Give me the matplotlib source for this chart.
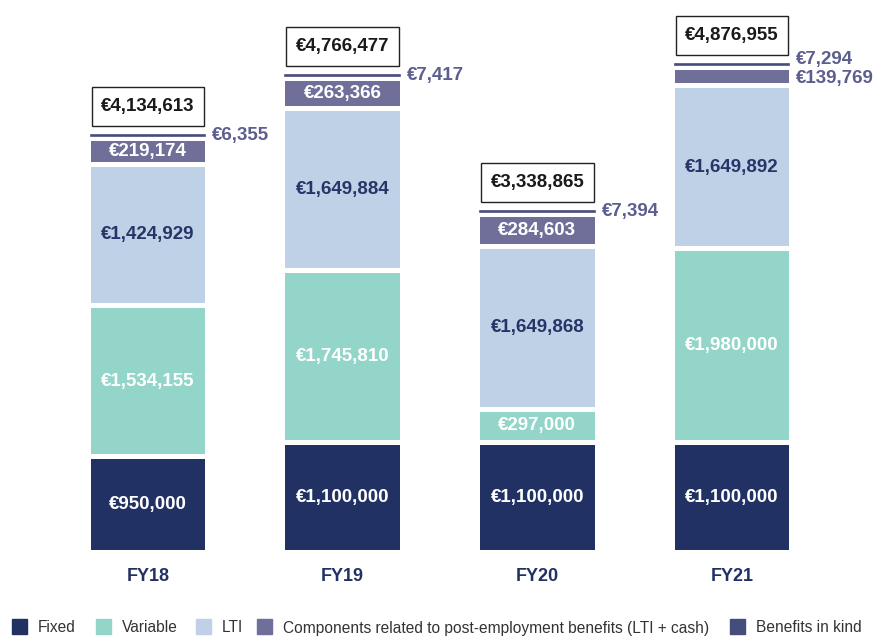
import matplotlib.pyplot as plt
import numpy as np

years = ['FY18', 'FY19', 'FY20', 'FY21']
fixed = [950000, 1100000, 1100000, 1100000]
variable = [1534155, 1745810, 297000, 1980000]
lti = [1424929, 1649884, 1649868, 1649892]
post_emp = [219174, 263366, 284603, 139769]
benefits = [6355, 7417, 7394, 7294]
totals = [4134613, 4766477, 3338865, 4876955]

c_fixed = '#223163'
c_var = '#93d5c9'
c_lti = '#bfd1e7'
c_post = '#6f6f9a'
c_bik = '#454d7c'
c_lab = '#5b5e8f'

plt.rcParams['font.family'] = ['Liberation Sans', 'DejaVu Sans']

W, H = 877, 637
fig = plt.figure(figsize=(W / 100, H / 100), dpi=100)
ax = fig.add_axes([0, 87 / H, 1, 550 / H])
px_per_unit = 0.0955 / 1000
ax.set_xlim(-0.76, 3.745)
ax.set_ylim(0, 550 / px_per_unit)
ax.axis('off')

x = np.arange(len(years))
width = 0.59
gap = 5 / px_per_unit
fs = 13.5


def fmt(v):
    return '€{:,}'.format(v)


bottom = np.zeros(len(years))
segs = [(fixed, c_fixed, 'white'), (variable, c_var, 'white'), (lti, c_lti, '#263567')]
for vals, col, tcol in segs:
    ax.bar(x, vals, width, bottom=bottom, color=col, linewidth=0)
    for i, v in enumerate(vals):
        ax.text(x[i], bottom[i] + v / 2, fmt(v), ha='center', va='center',
                color=tcol, fontsize=fs, fontweight='bold')
    bottom = bottom + np.array(vals) + gap

# post-employment
ax.bar(x, post_emp, width, bottom=bottom, color=c_post, linewidth=0)
for i, v in enumerate(post_emp):
    if v < 200000:
        ax.annotate(fmt(v), (x[i] + width / 2, bottom[i] + v / 2), xytext=(5, -1),
                    textcoords='offset points', ha='left', va='center',
                    color=c_lab, fontsize=fs, fontweight='bold')
    else:
        ax.text(x[i], bottom[i] + v / 2, fmt(v), ha='center', va='center',
                color='white', fontsize=fs, fontweight='bold')
bottom = bottom + np.array(post_emp) + gap

# benefits in kind (thin line)
ax.bar(x, benefits, width, bottom=bottom, color=c_bik, edgecolor=c_bik, linewidth=1.2)
for i, v in enumerate(benefits):
    dy = 4 if post_emp[i] < 200000 else 0
    ax.annotate(fmt(v), (x[i] + width / 2, bottom[i] + v / 2), xytext=(5, dy),
                textcoords='offset points', ha='left', va='center',
                color=c_lab, fontsize=fs, fontweight='bold')
bottom = bottom + np.array(benefits)

# total boxes
box_gap = 9 / px_per_unit
box_h = 39 / px_per_unit
ax.bar(x, box_h, width * 0.98, bottom=bottom + box_gap, fill=False,
       edgecolor='#222222', linewidth=1.0)
for i, t in enumerate(totals):
    ax.text(x[i], bottom[i] + box_gap + box_h / 2, fmt(t), ha='center', va='center',
            color='#1a1a1a', fontsize=fs, fontweight='bold')

for i, y in enumerate(years):
    ax.annotate(y, (x[i], 0), xytext=(0, -19), textcoords='offset points',
                ha='center', va='center', color=c_fixed, fontsize=13,
                fontweight='bold', annotation_clip=False)

# legend, laid out by hand along the bottom edge
labels = ['Fixed', 'Variable', 'LTI',
          'Components related to post-employment benefits (LTI + cash)',
          'Benefits in kind']
cols = [c_fixed, c_var, c_lti, c_post, c_bik]
leg_x = [12, 96, 196, 257, 730]
for lx, lab, c in zip(leg_x, labels, cols):
    fig.patches.append(plt.Rectangle((lx / W, 3 / H), 15 / W, 15 / H, color=c,
                                     transform=fig.transFigure))
    fig.text((lx + 26) / W, 9 / H, lab, ha='left', va='center', fontsize=11.2,
             color='#333333')

fig.savefig('out.png', dpi=100)
